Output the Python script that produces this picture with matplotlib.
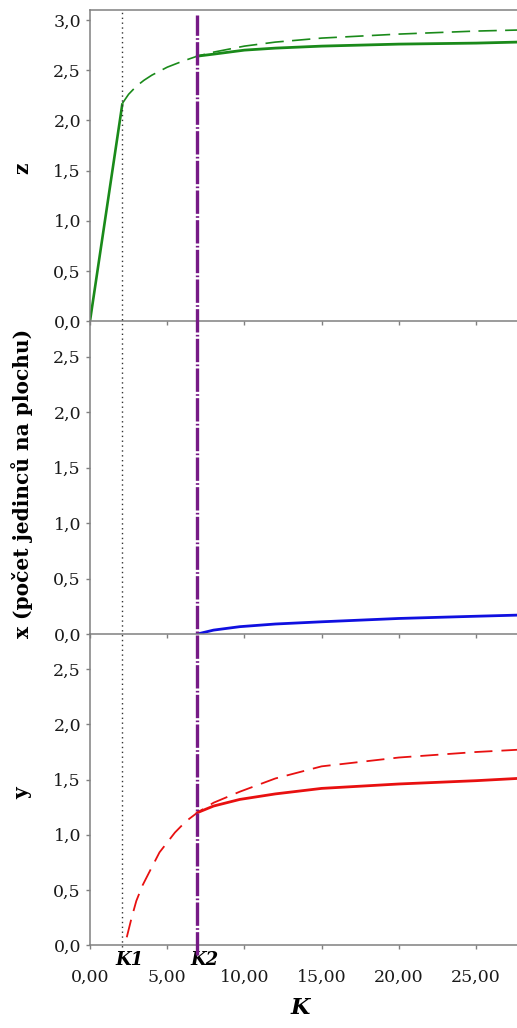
import matplotlib
matplotlib.use("Agg")
import matplotlib.pyplot as plt
from matplotlib.lines import Line2D
from matplotlib.transforms import blended_transform_factory
from matplotlib.ticker import FuncFormatter

# ---- data ----
K1 = 2.1
K2 = 6.95
X_MAX = 27.65

z_lin_x = [0.0, 2.1]
z_lin_y = [0.0, 2.17]
z_dash_x = [2.1, 2.5, 3.0, 3.5, 4.0, 5.0, 6.0, 6.95, 8.0, 10.0, 12.0, 15.0, 20.0, 25.0, 27.65]
z_dash_y = [2.17, 2.26, 2.34, 2.40, 2.45, 2.53, 2.59, 2.64, 2.68, 2.74, 2.78, 2.82, 2.86, 2.89, 2.90]
z_sol_x = [6.95, 8.0, 10.0, 12.0, 15.0, 20.0, 25.0, 27.65]
z_sol_y = [2.64, 2.66, 2.70, 2.72, 2.74, 2.76, 2.77, 2.78]

x_sol_x = [6.95, 8.0, 9.7, 12.0, 15.0, 20.0, 25.0, 27.65]
x_sol_y = [0.0, 0.035, 0.066, 0.09, 0.11, 0.14, 0.16, 0.17]

y_dash_x = [2.38, 2.7, 3.0, 3.4, 3.8, 4.5, 5.5, 6.2, 6.95, 8.0, 9.7, 12.0, 15.0, 20.0, 25.0, 27.65]
y_dash_y = [0.07, 0.25, 0.40, 0.54, 0.65, 0.84, 1.02, 1.12, 1.20, 1.29, 1.39, 1.51, 1.62, 1.70, 1.75, 1.77]
y_sol_x = [6.95, 8.0, 9.7, 12.0, 15.0, 20.0, 25.0, 27.65]
y_sol_y = [1.20, 1.26, 1.32, 1.37, 1.42, 1.46, 1.49, 1.51]

x_ticks = [0, 5, 10, 15, 20, 25]
y_ticks_top = [0, 0.5, 1.0, 1.5, 2.0, 2.5, 3.0]
y_ticks = [0, 0.5, 1.0, 1.5, 2.0, 2.5]

ylabel_z = "z"
ylabel_x = "x (počet jedinců na plochu)"
ylabel_y = "y"
xlabel = "K"

# ---- figure ----
plt.rcParams['font.family'] = ['DejaVu Serif']
fig = plt.figure(figsize=(5.17, 10.28), dpi=100)

W, H = 517, 1028
left = 90 / W
def fy(p):
    return 1 - p / H

ax1 = fig.add_axes([left, fy(321), 1 - left, fy(10) - fy(321)])
ax2 = fig.add_axes([left, fy(634), 1 - left, fy(321) - fy(634)])
ax3 = fig.add_axes([left, fy(945), 1 - left, fy(634) - fy(945)])

gray = '#808080'
green = '#1a8a1a'
blue = '#1010e0'
red = '#e81010'
purple = '#761a86'

yfmt = FuncFormatter(lambda v, p: f"{v:.1f}".replace('.', ','))
xfmt = FuncFormatter(lambda v, p: f"{v:.2f}".replace('.', ','))

for ax in (ax1, ax2, ax3):
    ax.patch.set_alpha(0)
    ax.set_xlim(0, X_MAX)
    ax.spines['right'].set_visible(False)
    for s in ('left', 'bottom', 'top'):
        ax.spines[s].set_color(gray)
        ax.spines[s].set_linewidth(1.1)
        ax.spines[s].set_zorder(5)
    ax.set_xticks(x_ticks)
    ax.tick_params(axis='both', direction='out', length=3, color=gray, width=1,
                   labelsize=12.5, labelcolor='#1a1a1a')
    ax.yaxis.set_major_formatter(yfmt)

for ax in (ax1, ax2):
    ax.tick_params(axis='x', labelbottom=False)
ax2.spines['top'].set_visible(False)
ax3.spines['top'].set_visible(False)

ax1.set_ylim(0, 3.1)
ax1.set_yticks(y_ticks_top)
ax2.set_ylim(0, 2.82)
ax2.set_yticks(y_ticks)
ax3.set_ylim(0, 2.82)
ax3.set_yticks(y_ticks)
ax3.xaxis.set_major_formatter(xfmt)
ax3.tick_params(axis='x', pad=14)

# curves
ax1.plot(z_lin_x, z_lin_y, color=green, lw=1.9, solid_capstyle='butt')
ax1.plot(z_dash_x, z_dash_y, color=green, lw=1.2, dashes=(11, 5))
ax1.plot(z_sol_x, z_sol_y, color=green, lw=2.0)

ax2.plot(x_sol_x, x_sol_y, color=blue, lw=2.0)

ax3.plot(y_dash_x, y_dash_y, color=red, lw=1.3, dashes=(10, 5))
ax3.plot(y_sol_x, y_sol_y, color=red, lw=2.0)

# vertical reference lines across all panels
tr = blended_transform_factory(ax3.transData, fig.transFigure)
fig.add_artist(Line2D([K1, K1], [fy(947), fy(12)], transform=tr, color='#333333',
                      lw=1.0, linestyle=(0, (1, 2.5))))
fig.add_artist(Line2D([K2, K2], [fy(955), fy(15)], transform=tr, color=purple,
                      lw=2.4, dashes=(7, 0.7, 0.5, 0.7)))

# K1 / K2 labels
for kv, lab in ((K1, "K1"), (K2, "K2")):
    ax3.annotate(lab, xy=(kv, 0), xycoords='data', xytext=(5, -4),
                 textcoords='offset points', ha='center', va='top',
                 fontsize=13, fontweight='bold', fontstyle='italic')

# axis labels
fig.text(22 / W, fy(168), ylabel_z, rotation=90, ha='center', va='center',
         fontsize=14.5, fontweight='bold')
fig.text(22 / W, fy(483), ylabel_x, rotation=90, ha='center', va='center',
         fontsize=14.5, fontweight='bold')
fig.text(22 / W, fy(793), ylabel_y, rotation=90, ha='center', va='center',
         fontsize=14.5, fontweight='bold')
fig.text(300 / W, fy(1008), xlabel, ha='center', va='center',
         fontsize=16, fontweight='bold', fontstyle='italic')

fig.savefig("out.png", dpi=100)
